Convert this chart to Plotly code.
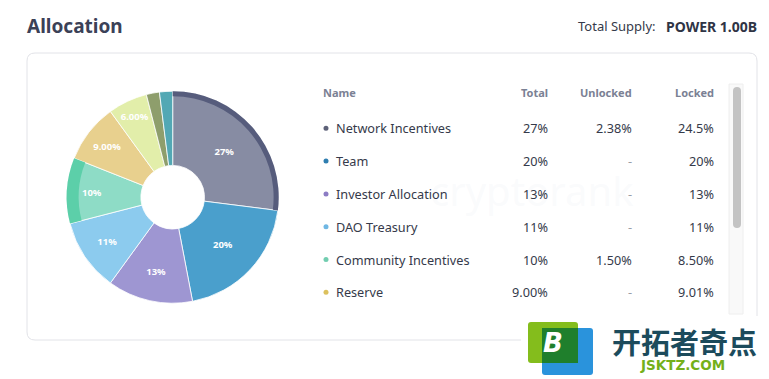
import plotly.graph_objects as go

# ---------------- data ----------------
slice_names = ["Network Incentives", "Team", "Investor Allocation", "DAO Treasury",
               "Community Incentives", "Reserve", "Other 1", "Other 2", "Other 3"]
slice_values = [27, 20, 13, 11, 10, 9, 6, 2, 2]
slice_text = ["27%", "20%", "13%", "11%", "10%", "9.00%", "6.00%", "", ""]

table_names = ["Network Incentives", "Team", "Investor Allocation", "DAO Treasury",
               "Community Incentives", "Reserve"]
table_total = ["27%", "20%", "13%", "11%", "10%", "9.00%"]
table_unlocked = ["2.38%", "-", "-", "-", "1.50%", "-"]
table_locked = ["24.5%", "20%", "13%", "11%", "8.50%", "9.01%"]
header = ["Name", "Total", "Unlocked", "Locked"]

# ---------------- style ----------------
PAGE_W, PAGE_H = 769, 379
OFF = 8                      # browser body margin
W, H = PAGE_W - OFF, PAGE_H - OFF
FONT = "Noto Sans"
slice_colors = ["#878ca3", "#4a9fcc", "#9e96d2", "#8ccbee", "#8edcc6",
                "#e8d08e", "#e2eeaa", "#8e9e6c", "#52a8b4"]
ring_colors = {0: "#565c7c", 4: "#5ccfa9"}
ring_holes = {0: 0.952, 4: 0.887}
dot_colors = ["#5d6178", "#2f7eb0", "#8c7cc4", "#6fb7e3", "#72cdb0", "#dcc15e"]
TEXT = "#353a4a"
GREY = "#7b8194"

cx, cy, R = 172.7, 197.2, 106.0
dom_x = [(cx - R - OFF) / W, (cx + R - OFF) / W]
dom_y = [1 - (cy + R - OFF) / H, 1 - (cy - R - OFF) / H]

fig = go.Figure()

fig.add_trace(go.Pie(
    labels=slice_names, values=slice_values, text=slice_text,
    texttemplate="<b>%{text}</b>", textposition="inside",
    insidetextorientation="horizontal",
    textfont=dict(family=FONT, size=9.5, color="white"),
    marker=dict(colors=slice_colors, line=dict(color="white", width=0.8)),
    sort=False, direction="clockwise", rotation=0, hole=0.30,
    domain=dict(x=dom_x, y=dom_y), showlegend=False, hoverinfo="skip",
))

# darker outer rings marking the unlocked part of a slice
for i, col in ring_colors.items():
    cols = ["rgba(0,0,0,0)"] * len(slice_values)
    cols[i] = col
    fig.add_trace(go.Pie(
        labels=slice_names, values=slice_values, textinfo="none",
        marker=dict(colors=cols, line=dict(width=0)),
        sort=False, direction="clockwise", rotation=0, hole=ring_holes[i],
        domain=dict(x=dom_x, y=dom_y), showlegend=False, hoverinfo="skip",
    ))

def rrect(x0, y0, x1, y1, r):
    return (f"M{x0+r},{y0} L{x1-r},{y0} Q{x1},{y0} {x1},{y0+r} L{x1},{y1-r} "
            f"Q{x1},{y1} {x1-r},{y1} L{x0+r},{y1} Q{x0},{y1} {x0},{y1-r} "
            f"L{x0},{y0+r} Q{x0},{y0} {x0+r},{y0} Z")

shapes = []
shapes.append(dict(type="path", path=rrect(27, 53, 757, 340, 8), xref="x", yref="y",
                   line=dict(color="#e2e3e8", width=1), fillcolor="rgba(0,0,0,0)", layer="below"))
shapes.append(dict(type="rect", x0=729, x1=743, y0=84, y1=314, xref="x", yref="y",
                   line=dict(color="#eeeeee", width=1), fillcolor="#f9f9f9"))
shapes.append(dict(type="path", path=rrect(733, 87, 741, 228, 4), xref="x", yref="y",
                   line=dict(width=0), fillcolor="#c3c3c3"))

annotations = []
# watermark (very faint)
annotations.append(dict(x=532, y=190, text="cryptorank", showarrow=False, xref="x", yref="y",
                        xanchor="center", yanchor="middle",
                        font=dict(family=FONT, size=40, color="rgba(225,230,240,0.18)")))

col_x = [321, 550, 634, 716]
name_x = 333.5
row0, row_step = 128.3, 32.8
for j, h in enumerate(header):
    annotations.append(dict(x=col_x[j], y=92.5, text=f"<b>{h}</b>", showarrow=False,
                            xref="x", yref="y", xanchor="left" if j == 0 else "right",
                            yanchor="middle", font=dict(family=FONT, size=11, color=GREY)))
for i in range(len(table_names)):
    y = row0 + i * row_step
    shapes.append(dict(type="circle", x0=323.5, x1=328.5, y0=y - 2.5, y1=y + 2.5,
                       xref="x", yref="y", line=dict(width=0), fillcolor=dot_colors[i]))
    annotations.append(dict(x=name_x, y=y, text=table_names[i], showarrow=False, xref="x", yref="y",
                            xanchor="left", yanchor="middle", font=dict(family=FONT, size=12.7, color=TEXT)))
    for j, vals in [(1, table_total), (2, table_unlocked), (3, table_locked)]:
        v = vals[i]
        annotations.append(dict(x=col_x[j], y=y, text=v, showarrow=False, xref="x", yref="y",
                                xanchor="right", yanchor="middle",
                                font=dict(family=FONT, size=12.7, color="#9a9ea8" if v == "-" else TEXT)))

annotations.append(dict(x=25, y=26, text="<b>Allocation</b>", showarrow=False, xref="x", yref="y",
                        xanchor="left", yanchor="middle", font=dict(family=FONT, size=19, color="#3b4157")))
annotations.append(dict(x=658, y=26, text="Total Supply:", showarrow=False, xref="x", yref="y",
                        xanchor="right", yanchor="middle", font=dict(family=FONT, size=13, color="#353a4a")))
annotations.append(dict(x=759, y=26, text="<b>POWER 1.00B</b>", showarrow=False, xref="x", yref="y",
                        xanchor="right", yanchor="middle", font=dict(family=FONT, size=14, color="#2f3445")))

# bottom-right logo
shapes.append(dict(type="rect", x0=521, x1=769, y0=316, y1=379, xref="x", yref="y",
                   line=dict(width=0), fillcolor="white"))
shapes.append(dict(type="path", path=rrect(542, 328, 593, 375, 3), xref="x", yref="y",
                   line=dict(width=0), fillcolor="#2a93dc"))
shapes.append(dict(type="path", path=rrect(528, 322, 578, 363, 3), xref="x", yref="y",
                   line=dict(width=0), fillcolor="#84bd1c"))
shapes.append(dict(type="rect", x0=542, x1=578, y0=328, y1=363, xref="x", yref="y",
                   line=dict(width=0), fillcolor="#1f7f2c"))
annotations.append(dict(x=553, y=343, text="<b><i>B</i></b>", showarrow=False, xref="x", yref="y",
                        xanchor="center", yanchor="middle",
                        font=dict(family="DejaVu Sans", size=26, color="white")))
annotations.append(dict(x=684, y=341, text="<b>开拓者奇点</b>", showarrow=False, xref="x", yref="y",
                        xanchor="center", yanchor="middle",
                        font=dict(family="Noto Sans CJK SC", size=29, color="#1c4b5c")))
annotations.append(dict(x=682, y=365, text="<b>JSKTZ.COM</b>", showarrow=False, xref="x", yref="y",
                        xanchor="center", yanchor="middle",
                        font=dict(family="DejaVu Sans", size=13.5, color="#74b01a")))

fig.update_layout(
    width=W, height=H, margin=dict(l=0, r=0, t=0, b=0),
    paper_bgcolor="white", plot_bgcolor="white",
    xaxis=dict(range=[OFF, PAGE_W], visible=False, fixedrange=True, domain=[0, 1]),
    yaxis=dict(range=[PAGE_H, OFF], visible=False, fixedrange=True, domain=[0, 1]),
    shapes=shapes, annotations=annotations, showlegend=False,
)

fig.write_html("out.html")
